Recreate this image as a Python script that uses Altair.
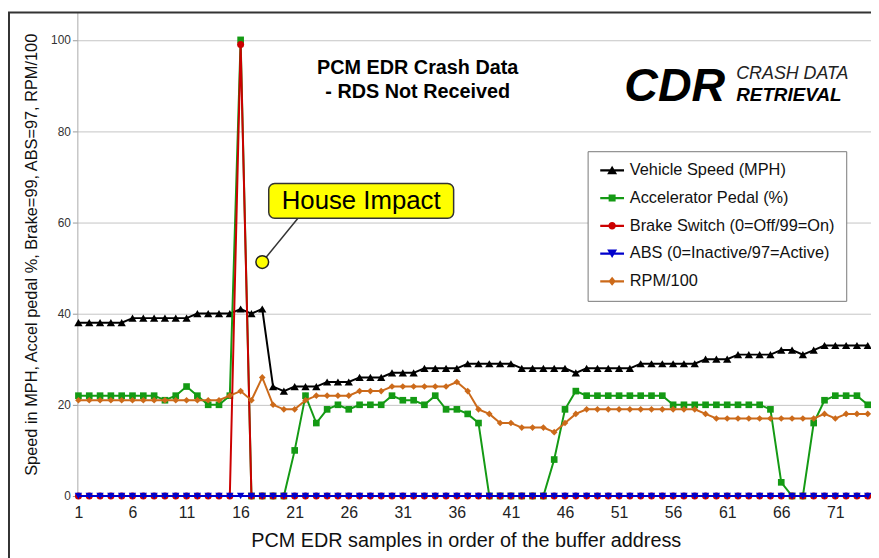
import altair as alt
import pandas as pd

# ---------------- data ----------------
samples = list(range(1, 75))

speed = [38, 38, 38, 38, 38, 39, 39, 39, 39, 39, 39, 40, 40, 40, 40,
         41, 40, 41, 24, 23, 24, 24, 24, 25, 25, 25, 26, 26, 26, 27,
         27, 27, 28, 28, 28, 28, 29, 29, 29, 29, 29, 28, 28, 28, 28,
         28, 27, 28, 28, 28, 28, 28, 29, 29, 29, 29, 29, 29, 30, 30,
         30, 31, 31, 31, 31, 32, 32, 31, 32, 33, 33, 33, 33, 33]

accel = [22, 22, 22, 22, 22, 22, 22, 22, 21, 22, 24, 22, 20, 20, 22,
         100, 0, 0, 0, 0, 10, 22, 16, 19, 20, 19, 20, 20, 20, 22,
         21, 21, 20, 22, 19, 19, 18, 16, 0, 0, 0, 0, 0, 0, 8,
         19, 23, 22, 22, 22, 22, 22, 22, 22, 22, 20, 20, 20, 20, 20,
         20, 20, 20, 20, 19, 3, 0, 0, 16, 21, 22, 22, 22, 20]

brake = [0, 0, 0, 0, 0, 0, 0, 0, 0, 0, 0, 0, 0, 0, 0,
         99, 0, 0, 0, 0, 0, 0, 0, 0, 0, 0, 0, 0, 0, 0,
         0, 0, 0, 0, 0, 0, 0, 0, 0, 0, 0, 0, 0, 0, 0,
         0, 0, 0, 0, 0, 0, 0, 0, 0, 0, 0, 0, 0, 0, 0,
         0, 0, 0, 0, 0, 0, 0, 0, 0, 0, 0, 0, 0, 0]

abs_vals = [0, 0, 0, 0, 0, 0, 0, 0, 0, 0, 0, 0, 0, 0, 0,
            0, 0, 0, 0, 0, 0, 0, 0, 0, 0, 0, 0, 0, 0, 0,
            0, 0, 0, 0, 0, 0, 0, 0, 0, 0, 0, 0, 0, 0, 0,
            0, 0, 0, 0, 0, 0, 0, 0, 0, 0, 0, 0, 0, 0, 0,
            0, 0, 0, 0, 0, 0, 0, 0, 0, 0, 0, 0, 0, 0]

rpm = [21, 21, 21, 21, 21, 21, 21, 21, 21, 21, 21, 21, 21, 21, 22,
       23, 21, 26, 20, 19, 19, 21, 22, 22, 22, 22, 23, 23, 23, 24,
       24, 24, 24, 24, 24, 25, 23, 19, 18, 16, 16, 15, 15, 15, 14,
       16, 18, 19, 19, 19, 19, 19, 19, 19, 19, 19, 19, 19, 18, 17,
       17, 17, 17, 17, 17, 17, 17, 17, 17, 18, 17, 18, 18, 18]

series_names = ["Vehicle Speed (MPH)", "Accelerator Pedal (%)",
                "Brake Switch (0=Off/99=On)", "ABS (0=Inactive/97=Active)",
                "RPM/100"]
series_values = [speed, accel, brake, abs_vals, rpm]
colors = ["#000000", "#149a14", "#cc0000", "#0000cc", "#cc6a1a"]
shapes = ["triangle-up", "square", "circle", "triangle-down", "diamond"]
sizes = [70, 45, 50, 55, 45]

x_ticks = [1, 6, 11, 16, 21, 26, 31, 36, 41, 46, 51, 56, 61, 66, 71]
y_ticks = [0, 20, 40, 60, 80, 100]

# legend symbols: line + marker as custom paths (shifted right a little)
bar = "M-0.87,-0.15H2.33V0.15H-0.87Z "
legend_paths = [
    bar + "M0.73,-0.6L1.4,0.53L0.06,0.53Z",
    bar + "M0.26,-0.47H1.2V0.47H0.26Z",
    bar + "M0.23,0A0.5,0.5,0,1,1,1.23,0A0.5,0.5,0,1,1,0.23,0Z",
    bar + "M0.73,0.6L0.06,-0.53L1.4,-0.53Z",
    bar + "M0.73,-0.6L1.23,0L0.73,0.6L0.23,0Z",
]

# callout annotation (data coordinates)
callout_point = {"sample": [18.0], "value": [51.3]}
callout_line = {"sample": [18.0], "value": [51.3], "sample2": [21.3], "value2": [60.9]}
callout_box = {"sample": [18.6], "sample2": [35.7], "value": [60.9], "value2": [68.5]}
callout_text = {"sample": [27.15], "value": [64.7], "label": ["House Impact"]}

FONT = "Liberation Sans"

# ---------------- chart ----------------
x_scale = alt.Scale(domain=[0.9, 74.3], nice=False, zero=False)
y_scale = alt.Scale(domain=[0, 106], nice=False, zero=False)

x_axis = alt.Axis(values=x_ticks, grid=False, domain=False, ticks=False,
                  labelFont=FONT, labelFontSize=16, labelColor="#222",
                  labelPadding=9,
                  title="PCM EDR samples in order of the buffer address",
                  titleFont=FONT, titleFontSize=20, titleFontWeight="normal",
                  titleColor="#111", titleX=392, titleY=45,
                  titleBaseline="middle")
y_axis = alt.Axis(values=y_ticks, grid=True, gridColor="#c4c4c4", gridWidth=1,
                  domainColor="#aaaaaa", tickColor="#999999", tickSize=5,
                  labelFont=FONT, labelFontSize=12, labelColor="#333",
                  labelPadding=2,
                  title="Speed in MPH, Accel pedal %, Brake=99, ABS=97, RPM/100",
                  titleFont=FONT, titleFontSize=16.5, titleFontWeight="normal",
                  titleColor="#111", titleX=-46, titleY=244,
                  titleBaseline="middle", titleAngle=270)

X = alt.X("sample:Q", scale=x_scale, axis=x_axis)
Y = alt.Y("value:Q", scale=y_scale, axis=y_axis)

one = pd.DataFrame({"a": [0]})

frame = alt.Chart(one).mark_rect(filled=False, stroke="#333333", strokeWidth=2,
                                 clip=False).encode(
    x=alt.value(-69), x2=alt.value(900), y=alt.value(0), y2=alt.value(600))

layers = [frame]
for name, vals, col, shp, sz in zip(series_names, series_values, colors, shapes, sizes):
    d = pd.DataFrame({"sample": samples, "value": vals, "series": name})
    base = alt.Chart(d)
    layers.append(base.mark_line(color=col, strokeWidth=2).encode(x=X, y=Y))
    layers.append(base.mark_point(filled=True, shape=shp, size=sz, color=col,
                                  opacity=1).encode(x=X, y=Y))

legend_cfg = alt.Legend(orient="none", legendX=515, legendY=140, title=None,
                        fillColor="white", strokeColor="#777777", padding=11,
                        labelFont=FONT, labelFontSize=16.5, labelColor="#111",
                        labelOffset=15, rowPadding=11, symbolSize=225,
                        symbolStrokeWidth=0, labelLimit=400)
leg_df = pd.DataFrame({"series": series_names, "sample": [0.5] * 5,
                       "value": [-50] * 5})
legend_layer = alt.Chart(leg_df).mark_point(filled=True, size=225, clip=True,
                                            opacity=1).encode(
    x=X, y=Y,
    color=alt.Color("series:N", scale=alt.Scale(domain=series_names, range=colors),
                    legend=legend_cfg),
    shape=alt.Shape("series:N", scale=alt.Scale(domain=series_names, range=legend_paths),
                    legend=legend_cfg),
)
layers.append(legend_layer)

# callout
line_c = alt.Chart(pd.DataFrame(callout_line)).mark_rule(
    color="#333333", strokeWidth=1.5).encode(
    x=X, y=Y, x2="sample2:Q", y2="value2:Q")
box_c = alt.Chart(pd.DataFrame(callout_box)).mark_rect(
    fill="#ffff00", stroke="#333333", strokeWidth=1.5, cornerRadius=6).encode(
    x=X, x2="sample2:Q", y=Y, y2="value2:Q")
text_c = alt.Chart(pd.DataFrame(callout_text)).mark_text(
    font=FONT, fontSize=26, color="#000", align="center", baseline="middle").encode(
    x=X, y=Y, text="label:N")
pt_c = alt.Chart(pd.DataFrame(callout_point)).mark_point(
    filled=True, shape="circle", size=165, fill="#ffff00", stroke="#222222",
    strokeWidth=1.5, opacity=1).encode(x=X, y=Y)
layers += [line_c, box_c, text_c, pt_c]

# logo (decorative text)
logo1 = alt.Chart(one).mark_text(text="CDR", font=FONT, fontSize=47,
                                 fontWeight="bold", fontStyle="italic",
                                 align="left", baseline="alphabetic",
                                 color="#000").encode(x=alt.value(552), y=alt.value(89))
logo2 = alt.Chart(one).mark_text(text="CRASH DATA", font=FONT, fontSize=18,
                                 fontStyle="italic", align="left",
                                 baseline="alphabetic", color="#222").encode(
    x=alt.value(665), y=alt.value(67))
logo3 = alt.Chart(one).mark_text(text="RETRIEVAL", font=FONT, fontSize=19,
                                 fontWeight="bold", fontStyle="italic",
                                 align="left", baseline="alphabetic",
                                 color="#000").encode(x=alt.value(665), y=alt.value(89))
layers += [logo1, logo2, logo3]

chart = alt.layer(*layers).properties(
    width=801, height=488,
    autosize=alt.AutoSizeParams(type="none"),
    padding={"left": 70, "top": 2, "right": 0, "bottom": 60},
    title=alt.TitleParams(text="PCM EDR Crash Data", subtitle="- RDS Not Received",
                          anchor="middle", frame="group", dx=-57, dy=91,
                          offset=0, font=FONT, fontSize=20, fontWeight="bold",
                          color="#000", subtitleFont=FONT, subtitleFontSize=20,
                          subtitleFontWeight="bold", subtitleColor="#000",
                          subtitlePadding=4),
    background="white",
).configure_view(stroke=None)

chart.save("out.html", embed_options={"renderer": "svg", "actions": False})
